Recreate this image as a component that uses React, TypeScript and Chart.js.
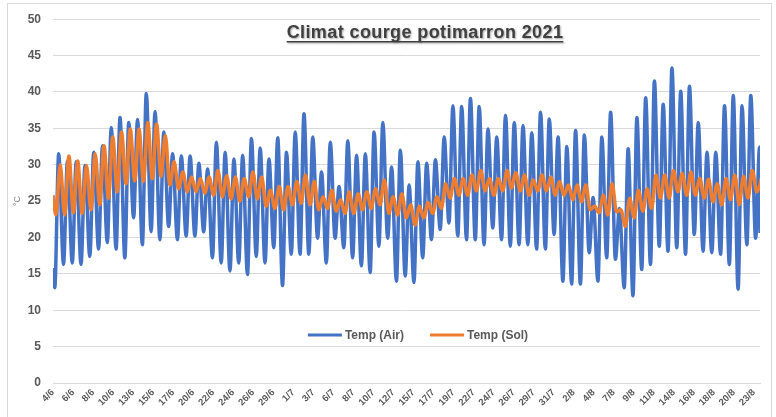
import React, { useEffect, useRef } from "react";
import { Chart, registerables } from "chart.js";

Chart.register(...registerables);

// Daily values, day 0 = 4/6/2021 ... day 80 = 23/8/2021
const airMin = [
  13.1, 16.3, 16.5, 16.3, 17.4, 18.4, 19.3, 18.4, 17.2, 22.7,
  19.0, 20.8, 19.7, 21.5, 19.7, 20.2, 20.2, 20.8, 17.2, 16.5,
  15.4, 16.5, 14.9, 17.4, 16.5, 18.6, 13.4, 17.7, 17.7, 17.7,
  19.9, 16.5, 19.9, 18.6, 17.2, 16.1, 15.2, 18.8, 19.9, 14.0,
  14.7, 13.8, 17.2, 19.7, 21.1, 22.0, 20.2, 19.7, 19.7, 19.0,
  21.3, 19.7, 18.8, 19.0, 19.0, 18.4, 18.4, 20.4, 14.0, 13.6,
  13.6, 17.9, 14.0, 17.2, 17.0, 13.1, 12.0, 15.6, 16.3, 18.8,
  18.1, 18.6, 17.7, 20.4, 18.1, 17.9, 17.7, 16.3, 12.9, 19.0,
  19.9,
];
const airMax = [
  31.5, 30.5, 30.4, 29.9, 31.7, 32.6, 35.1, 36.5, 35.8, 36.2,
  39.8, 37.3, 34.5, 31.5, 31.2, 31.2, 30.2, 29.4, 33.1, 31.7,
  30.8, 31.3, 33.6, 32.3, 30.8, 33.7, 31.7, 34.5, 37.0, 33.8,
  29.0, 33.1, 27.0, 33.3, 31.3, 31.5, 34.5, 35.8, 29.7, 32.0,
  27.2, 30.4, 30.2, 30.7, 33.8, 38.1, 38.0, 39.1, 38.0, 34.9,
  33.8, 36.8, 35.8, 35.4, 34.4, 37.2, 36.3, 33.8, 32.5, 34.7,
  34.1, 25.5, 33.8, 37.2, 24.0, 32.2, 36.5, 39.2, 41.5, 38.3,
  43.3, 40.1, 40.8, 35.8, 31.7, 31.7, 38.1, 39.5, 38.1, 39.5,
  32.4,
];
const soilMin = [
  23.1, 23.1, 23.4, 23.3, 23.8, 24.5, 25.4, 26.3, 27.4, 27.8,
  27.7, 28.1, 28.4, 27.2, 26.7, 26.3, 26.3, 26.1, 25.8, 25.6,
  25.3, 25.0, 25.6, 25.3, 24.3, 24.0, 23.8, 24.5, 24.7, 24.5,
  23.8, 24.0, 23.6, 23.3, 23.3, 23.8, 24.0, 24.5, 23.3, 23.1,
  22.7, 21.7, 22.7, 23.3, 24.0, 25.4, 25.8, 25.8, 26.4, 26.4,
  25.8, 26.4, 26.8, 26.4, 25.8, 26.4, 26.4, 25.8, 25.8, 25.2,
  24.9, 23.8, 23.4, 23.1, 23.5, 21.5, 22.7, 23.6, 24.0, 25.4,
  25.4, 26.3, 25.8, 25.8, 25.4, 24.9, 24.5, 25.2, 24.5, 25.4,
  26.3,
];
const soilMax = [
  30.0, 31.2, 30.5, 29.9, 31.5, 32.6, 33.8, 34.5, 34.9, 34.9,
  35.8, 35.6, 34.0, 30.4, 29.0, 28.3, 28.1, 28.3, 29.2, 28.5,
  28.3, 28.1, 29.0, 28.3, 26.5, 27.0, 27.0, 27.7, 28.6, 27.7,
  25.6, 26.5, 25.2, 26.3, 26.0, 26.3, 26.7, 27.9, 25.6, 26.0,
  24.5, 24.3, 24.8, 25.6, 27.4, 28.1, 28.1, 28.6, 29.2, 28.1,
  28.1, 29.2, 28.9, 28.6, 27.9, 28.6, 28.3, 27.7, 27.2, 27.2,
  27.2, 24.3, 25.8, 27.4, 23.8, 25.4, 26.5, 26.7, 28.6, 28.6,
  29.2, 28.8, 29.0, 28.1, 28.0, 27.4, 28.1, 28.6, 28.4, 29.2,
  28.1,
];
const airStart = 15.8;
const airEnd = 20.6;
const soilStart = 25.8;
const soilEnd = 26.5;

// hours of day (as fraction of a day) of the daily extremes
const airMinHour = 0.2;
const airMaxHour = 0.65;
const soilMinHour = 0.33;
const soilMaxHour = 0.82;
const lastDay = 80.7;

const xTickLabels = [
  "4/6", "6/6", "8/6", "10/6", "13/6", "15/6", "17/6", "20/6", "22/6", "24/6",
  "26/6", "29/6", "1/7", "3/7", "6/7", "8/7", "10/7", "12/7", "15/7", "17/7",
  "19/7", "22/7", "24/7", "26/7", "29/7", "31/7", "2/8", "4/8", "7/8", "9/8",
  "11/8", "14/8", "16/8", "18/8", "20/8", "23/8",
];
const xTickSpanDays = 80;

const seriesNames = ["Temp (Air)", "Temp (Sol)"];
const seriesColors = ["#4472C4", "#ED7D31"];
const chartTitle = "Climat courge potimarron 2021";
const yTitle = "°C";

function buildSeries(start: number, mins: number[], maxs: number[], minH: number, maxH: number, end: number) {
  const pts: { x: number; y: number }[] = [{ x: 0, y: start }];
  for (let d = 0; d < mins.length; d++) {
    pts.push({ x: d + minH, y: mins[d] });
    pts.push({ x: d + maxH, y: maxs[d] });
  }
  pts.push({ x: lastDay, y: end });
  return pts;
}

const titlePlugin = {
  id: "customTitle",
  afterDraw(chart: any) {
    const ctx = chart.ctx;
    ctx.save();
    ctx.font = "bold 18px 'Liberation Sans', Arial, sans-serif";
    (ctx as any).letterSpacing = "0.4px";
    ctx.textAlign = "center";
    ctx.textBaseline = "alphabetic";
    const cx = 425;
    const by = 38;
    ctx.shadowColor = "rgba(0,0,0,0.35)";
    ctx.shadowOffsetX = 1;
    ctx.shadowOffsetY = 1;
    ctx.shadowBlur = 2;
    ctx.fillStyle = "#404040";
    ctx.fillText(chartTitle, cx, by);
    const w = ctx.measureText(chartTitle).width;
    ctx.fillRect(cx - w / 2, by + 3, w, 1.5);
    ctx.restore();
  },
};

const legendPlugin = {
  id: "customLegend",
  afterDraw(chart: any) {
    const ctx = chart.ctx;
    ctx.save();
    ctx.font = "bold 12px 'Liberation Sans', Arial, sans-serif";
    ctx.textBaseline = "middle";
    const y = 335;
    const lineLen = 34;
    const gap = 3;
    const itemGap = 26;
    const items = chart.data.datasets.map((ds: any) => ({
      label: ds.label,
      color: ds.borderColor,
      w: lineLen + gap + ctx.measureText(ds.label).width,
    }));
    const total = items.reduce((s: number, it: any) => s + it.w, 0) + itemGap * (items.length - 1);
    let x = 418 - total / 2;
    for (const it of items) {
      ctx.strokeStyle = it.color;
      ctx.lineWidth = 3;
      ctx.beginPath();
      ctx.moveTo(x, y);
      ctx.lineTo(x + lineLen, y);
      ctx.stroke();
      ctx.fillStyle = "#595959";
      ctx.fillText(it.label, x + lineLen + gap, y + 1);
      x += it.w + itemGap;
    }
    ctx.restore();
  },
};

const framePlugin = {
  id: "frame",
  afterDraw(chart: any) {
    const ctx = chart.ctx;
    ctx.save();
    ctx.strokeStyle = "#d9d9d9";
    ctx.lineWidth = 1;
    ctx.strokeRect(7.5, 3.5, chart.width - 12, chart.height + 10);
    ctx.restore();
  },
};

export default function App() {
  const ref = useRef<HTMLCanvasElement | null>(null);
  useEffect(() => {
    if (!ref.current) return;
    const tickValues = xTickLabels.map((_, i) => (i * xTickSpanDays) / (xTickLabels.length - 1));
    const chart = new Chart(ref.current, {
      type: "line",
      data: {
        datasets: [
          {
            label: seriesNames[0],
            data: buildSeries(airStart, airMin, airMax, airMinHour, airMaxHour, airEnd),
            borderColor: seriesColors[0],
            backgroundColor: seriesColors[0],
            borderWidth: 3.5,
            pointRadius: 0,
            cubicInterpolationMode: "monotone",
            order: 2,
          },
          {
            label: seriesNames[1],
            data: buildSeries(soilStart, soilMin, soilMax, soilMinHour, soilMaxHour, soilEnd),
            borderColor: seriesColors[1],
            backgroundColor: seriesColors[1],
            borderWidth: 3.5,
            pointRadius: 0,
            cubicInterpolationMode: "monotone",
            order: 1,
          },
        ],
      },
      options: {
        animation: false,
        responsive: true,
        maintainAspectRatio: false,
        layout: { padding: { left: 0, right: 16, top: 16, bottom: 0 } },
        plugins: {
          legend: { display: false },
          title: { display: false },
          tooltip: { enabled: false },
        },
        scales: {
          x: {
            type: "linear",
            min: 0,
            max: lastDay,
            afterBuildTicks: (scale: any) => {
              scale.ticks = tickValues.map((v) => ({ value: v }));
            },
            afterFit: (scale: any) => {
              scale.height = 34;
            },
            grid: { display: false, drawTicks: false },
            border: { display: true, color: "#d9d9d9" },
            ticks: {
              autoSkip: false,
              maxRotation: 45,
              minRotation: 45,
              padding: 4,
              color: "#595959",
              font: { family: "'Liberation Sans', Arial, sans-serif", size: 9.5, weight: "bold" },
              callback: (_v: any, i: number) => xTickLabels[i],
            },
          },
          y: {
            min: 0,
            max: 50,
            afterFit: (scale: any) => {
              scale.width = 53;
            },
            ticks: {
              stepSize: 5,
              padding: 12,
              color: "#595959",
              font: { family: "'Liberation Sans', Arial, sans-serif", size: 12, weight: "bold" },
            },
            grid: { color: "#d9d9d9", drawTicks: false },
            border: { display: false },
            title: {
              display: true,
              text: yTitle,
              color: "#7f7f7f",
              padding: { top: 12, bottom: 0 },
              font: { family: "'Liberation Sans', Arial, sans-serif", size: 9 },
            },
          },
        },
      },
      plugins: [titlePlugin, legendPlugin, framePlugin],
    });
    return () => chart.destroy();
  }, []);
  return (
    <div style={{ position: "fixed", left: 0, top: 0, width: 776, height: 417, background: "#fff" }}>
      <canvas ref={ref} />
    </div>
  );
}
